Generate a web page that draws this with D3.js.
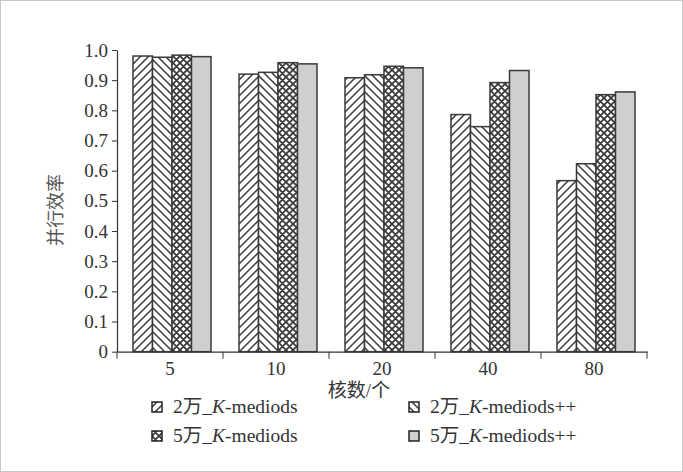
<!DOCTYPE html>
<html>
<head>
<meta charset="utf-8">
<script src="https://cdn.jsdelivr.net/npm/d3@7/dist/d3.min.js"></script>
<style>
  html, body { margin: 0; padding: 0; background: #fff; }
  svg { display: block; }
</style>
</head>
<body>
<svg id="chart" width="683" height="472"></svg>
<script>
const cores = ["5", "10", "20", "40", "80"];
const seriesNames = ["2万_K-mediods", "2万_K-mediods++", "5万_K-mediods", "5万_K-mediods++"];
const s2wKm = [0.98, 0.92, 0.908, 0.786, 0.567];
const s2wKmpp = [0.976, 0.926, 0.918, 0.746, 0.623];
const s5wKm = [0.983, 0.958, 0.946, 0.892, 0.852];
const s5wKmpp = [0.978, 0.954, 0.941, 0.932, 0.861];
const yTicks = [0, 0.1, 0.2, 0.3, 0.4, 0.5, 0.6, 0.7, 0.8, 0.9, 1.0];

const seriesValues = [s2wKm, s2wKmpp, s5wKm, s5wKmpp];
const fills = ["url(#hatchR)", "url(#hatchL)", "url(#cross)", "#cfcfd1"];
const ink = "#333";
const serif = "'Liberation Serif', 'Times New Roman', 'Noto Sans CJK SC', serif";
const fontSize = 19;

const svg = d3.select("#chart");

// frame round the figure
svg.append("rect")
  .attr("x", 0.5).attr("y", 0.5)
  .attr("width", 682).attr("height", 471)
  .attr("fill", "#fff").attr("stroke", "#c8c8c8");

// patterns
const defs = svg.append("defs");
function hatch(id, d, size, sw) {
  const p = defs.append("pattern")
    .attr("id", id)
    .attr("patternUnits", "userSpaceOnUse")
    .attr("width", size).attr("height", size);
  p.append("rect").attr("width", size).attr("height", size).attr("fill", "#fff");
  p.append("path").attr("d", d).attr("stroke", "#3a3a3a").attr("stroke-width", sw).attr("fill", "none");
}
hatch("hatchR", "M-2,2 L2,-2 M0,8 L8,0 M6,10 L10,6", 8, 1.5);
hatch("hatchL", "M-2,6 L2,10 M0,0 L8,8 M6,-2 L10,2", 8, 1.5);
hatch("cross", "M0,0 L7,7 M-3.5,3.5 L3.5,10.5 M3.5,-3.5 L10.5,3.5 M0,7 L7,0 M-3.5,3.5 L3.5,-3.5 M3.5,10.5 L10.5,3.5", 7, 1.8);

const plot = { left: 117, right: 647, top: 50, bottom: 351.7 };

const x0 = d3.scaleBand().domain(cores).range([plot.left, plot.right]).padding(0);
const x1 = d3.scaleBand().domain(d3.range(seriesNames.length)).range([16, 94]);
const y = d3.scaleLinear().domain([0, 1]).range([plot.bottom, plot.top]);

// bars
const groups = svg.append("g").selectAll("g")
  .data(cores)
  .join("g")
  .attr("transform", (c) => `translate(${x0(c)},0)`);

groups.selectAll("rect")
  .data((c, i) => seriesValues.map((vals, s) => ({ s, v: vals[i] })))
  .join("rect")
  .attr("x", (d) => x1(d.s))
  .attr("y", (d) => y(d.v))
  .attr("width", x1.bandwidth())
  .attr("height", (d) => plot.bottom - y(d.v))
  .attr("fill", (d) => fills[d.s])
  .attr("stroke", "#3a3a3a")
  .attr("stroke-width", 1.5);

// y axis
const yAxis = svg.append("g")
  .attr("transform", `translate(${plot.left},0)`)
  .call(d3.axisLeft(y).tickValues(yTicks).tickSize(5).tickSizeOuter(0)
    .tickFormat((v) => (v === 0 ? "0" : d3.format(".1f")(v))));
yAxis.selectAll("text")
  .attr("font-family", serif).attr("font-size", fontSize).attr("fill", ink).attr("x", -9);

// x axis: labels in the middle of each band, ticks on the band edges
const xAxis = svg.append("g")
  .attr("transform", `translate(0,${plot.bottom})`)
  .call(d3.axisBottom(x0).tickSize(0).tickPadding(10));
xAxis.selectAll("text")
  .attr("font-family", serif).attr("font-size", fontSize).attr("fill", ink);
xAxis.selectAll("line.edge")
  .data(cores.map((c) => x0(c)).concat([x0.range()[1]]))
  .join("line")
  .attr("class", "edge")
  .attr("x1", (d) => d).attr("x2", (d) => d)
  .attr("y1", 0).attr("y2", 7)
  .attr("stroke", ink);

svg.selectAll(".domain").attr("stroke", ink).attr("stroke-width", 1.2);
svg.selectAll(".tick line").attr("stroke", ink);

// axis titles
svg.append("text")
  .attr("transform", "translate(62,210) rotate(-90)")
  .attr("text-anchor", "middle")
  .attr("font-family", "'Noto Sans CJK SC', sans-serif")
  .attr("font-size", 18)
  .attr("fill", "#555")
  .text("并行效率");

svg.append("text")
  .attr("x", 359).attr("y", 397)
  .attr("text-anchor", "middle")
  .attr("font-family", serif)
  .attr("font-size", fontSize).attr("fill", ink)
  .text("核数/个");

// legend
const legendPos = [
  { x: 152, y: 407 }, { x: 409, y: 407 },
  { x: 152, y: 436 }, { x: 409, y: 436 },
];
const legend = svg.append("g").selectAll("g")
  .data(seriesNames)
  .join("g")
  .attr("transform", (d, i) => `translate(${legendPos[i].x},${legendPos[i].y})`);

legend.append("rect")
  .attr("x", 0).attr("y", -5)
  .attr("width", 10).attr("height", 10)
  .attr("fill", (d, i) => fills[i])
  .attr("stroke", "#222").attr("stroke-width", 1.5);

legend.append("text")
  .attr("x", 21).attr("y", 6)
  .attr("font-family", serif).attr("font-size", 19.5).attr("fill", ink)
  .each(function (d) {
    const t = d3.select(this);
    const [pre, rest] = d.split("K");
    t.append("tspan").text(pre);
    t.append("tspan").attr("font-style", "italic").text("K");
    t.append("tspan").text(rest);
  });
</script>
</body>
</html>
